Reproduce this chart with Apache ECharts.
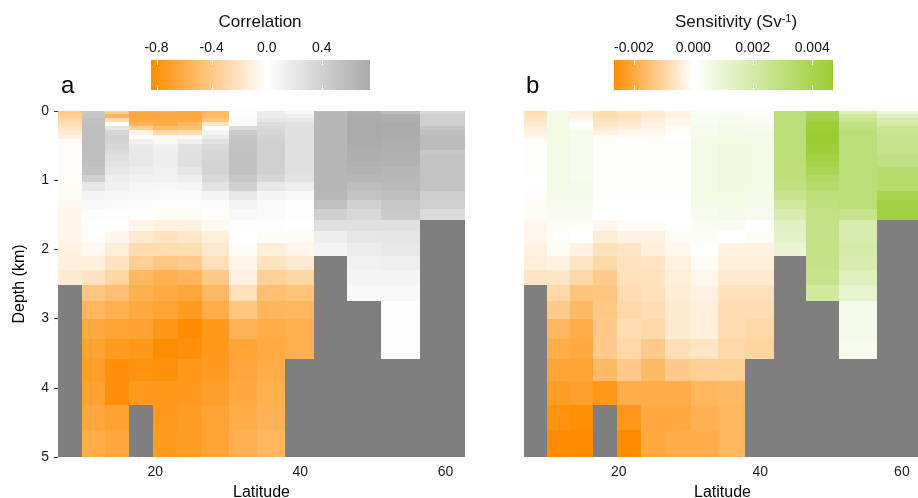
<!DOCTYPE html>
<html>
<head>
<meta charset="utf-8">
<title>Correlation and sensitivity sections</title>
<script src="https://cdn.jsdelivr.net/npm/echarts@6/dist/echarts.min.js"></script>
<style>
  html, body { margin: 0; padding: 0; background: #fff; }
  #chart { width: 918px; height: 498px; }
</style>
</head>
<body>
<div id="chart"></div>
<script>
// cell edges of the section (latitude in degrees, depth in km)
var latEdges = [6.6, 9.9, 13.1, 16.4, 19.7, 23.1, 26.5, 30.2, 34.0, 37.9, 41.9, 46.4, 51.1, 56.5, 62.7];
var depthEdges = [0, 0.05, 0.10, 0.16, 0.22, 0.28, 0.34, 0.41, 0.48, 0.56, 0.64, 0.72, 0.81, 0.92, 1.03,
  1.16, 1.29, 1.42, 1.57, 1.74, 1.91, 2.10, 2.30, 2.52, 2.75, 3.01, 3.29, 3.58, 3.90, 4.25, 4.61, 5.0];
// sea floor depth of each column (km), land below it
var seafloor = [2.52, 5, 5, 4.25, 5, 5, 5, 5, 5, 3.58, 2.10, 2.75, 3.58, 1.57];

var latTicks = [20, 40, 60];
var corrTicks = [-0.8, -0.4, 0.0, 0.4];
var sensTicks = [-0.002, 0.000, 0.002, 0.004];
var corrRange = [-0.84, 0.75];
var sensRange = [-0.00267, 0.0047];

// panel a: correlation, one list per latitude column, top to bottom
var corrCols = [
  [-0.40,-0.35,-0.30,-0.25,-0.20,-0.15,-0.10,-0.04,-0.02,-0.02,-0.02,-0.02,-0.02,-0.02,-0.03,-0.03,-0.05,-0.07,-0.07,-0.07,-0.09,-0.11,-0.15],
  [0.48,0.50,0.54,0.56,0.57,0.57,0.57,0.57,0.57,0.57,0.56,0.55,0.52,0.40,0.20,0.10,0.06,0.03,0.02,-0.02,-0.05,-0.12,-0.20,-0.42,-0.53,-0.63,-0.68,-0.71,-0.68,-0.64,-0.60],
  [-0.35,-0.55,-0.25,0.01,0.22,0.36,0.40,0.38,0.35,0.32,0.28,0.24,0.20,0.16,0.12,0.08,0.04,0.02,0.00,-0.07,-0.13,-0.21,-0.31,-0.47,-0.58,-0.67,-0.73,-0.82,-0.82,-0.68,-0.64],
  [-0.62,-0.64,-0.62,-0.55,-0.35,-0.08,0.03,0.12,0.18,0.20,0.21,0.20,0.16,0.12,0.08,0.06,0.03,0.01,-0.07,-0.16,-0.26,-0.35,-0.52,-0.58,-0.63,-0.68,-0.76,-0.79,-0.74],
  [-0.62,-0.63,-0.62,-0.60,-0.50,-0.28,-0.05,0.06,0.12,0.14,0.15,0.15,0.13,0.11,0.07,0.04,0.02,-0.03,-0.10,-0.20,-0.26,-0.41,-0.57,-0.62,-0.67,-0.77,-0.83,-0.80,-0.75,-0.74,-0.73],
  [-0.63,-0.63,-0.62,-0.52,-0.45,-0.25,-0.05,0.14,0.25,0.26,0.27,0.27,0.22,0.15,0.08,0.04,0.02,-0.04,-0.10,-0.18,-0.25,-0.38,-0.55,-0.65,-0.73,-0.84,-0.81,-0.75,-0.74,-0.72,-0.72],
  [-0.52,-0.50,-0.42,-0.18,-0.03,0.10,0.17,0.26,0.33,0.36,0.37,0.38,0.38,0.34,0.24,0.10,0.03,-0.02,-0.05,-0.12,-0.16,-0.23,-0.39,-0.52,-0.60,-0.75,-0.75,-0.73,-0.70,-0.67,-0.67],
  [0.03,0.03,0.04,0.05,0.30,0.45,0.50,0.52,0.53,0.54,0.54,0.54,0.53,0.48,0.41,0.20,0.10,0.06,0.02,0.00,-0.03,-0.08,-0.10,-0.23,-0.42,-0.56,-0.66,-0.64,-0.63,-0.60,-0.57],
  [0.16,0.17,0.22,0.30,0.34,0.36,0.38,0.40,0.41,0.41,0.41,0.41,0.40,0.36,0.20,0.10,0.04,0.04,0.02,-0.03,-0.13,-0.21,-0.34,-0.47,-0.54,-0.60,-0.62,-0.60,-0.58,-0.56,-0.53],
  [0.06,0.14,0.20,0.26,0.27,0.27,0.27,0.27,0.27,0.27,0.27,0.27,0.27,0.24,0.15,0.05,0.02,0.02,0.00,-0.03,-0.07,-0.15,-0.29,-0.44,-0.53,-0.58,-0.58],
  [0.62,0.63,0.63,0.63,0.63,0.63,0.63,0.63,0.63,0.63,0.63,0.63,0.63,0.63,0.63,0.62,0.55,0.41,0.27,0.15,0.10],
  [0.70,0.72,0.73,0.74,0.74,0.74,0.74,0.73,0.72,0.71,0.70,0.68,0.66,0.63,0.57,0.52,0.40,0.34,0.27,0.22,0.17,0.12,0.10,0.06],
  [0.58,0.68,0.71,0.73,0.73,0.73,0.72,0.71,0.70,0.69,0.68,0.67,0.63,0.62,0.60,0.56,0.49,0.46,0.27,0.23,0.20,0.14,0.10,0.06,0.01,0.01,0.01],
  [0.34,0.41,0.41,0.41,0.50,0.55,0.59,0.59,0.59,0.48,0.52,0.52,0.52,0.52,0.52,0.43,0.41,0.31]
];

// panel b: sensitivity (Sv^-1), same layout
var sensCols = [
  [-0.0008,-0.0007,-0.0006,-0.0005,-0.0004,-0.0003,-0.0002,0.0,0.00005,0.0001,0.0001,0.0001,0.0001,0.0,0.0,-0.00005,-0.0001,-0.0001,-0.0002,-0.0002,-0.0003,-0.0004,-0.0006],
  [0.0005,0.0006,0.0006,0.0006,0.0006,0.0006,0.0006,0.0006,0.0006,0.0006,0.0006,0.0006,0.0006,0.0006,0.0006,0.0005,0.0004,0.0003,0.0002,0.0001,-0.0001,-0.0003,-0.0006,-0.0009,-0.0012,-0.0017,-0.0019,-0.0021,-0.0023,-0.0025,-0.0027],
  [-0.0004,-0.0003,-0.0002,0.0001,0.0002,0.0004,0.0004,0.0004,0.0004,0.0004,0.0004,0.0004,0.0004,0.0004,0.0005,0.0005,0.0004,0.0003,0.0002,0.0,-0.0003,-0.0006,-0.0009,-0.0014,-0.0016,-0.0019,-0.0020,-0.0021,-0.0022,-0.0026,-0.0027],
  [-0.0008,-0.0008,-0.0007,-0.0006,-0.0005,-0.0003,-0.0001,0.0001,0.0001,0.0001,0.0001,0.0001,0.0001,0.0001,0.0001,0.0001,0.0,0.0,-0.0002,-0.00045,-0.0007,-0.0009,-0.0012,-0.00135,-0.0013,-0.0012,-0.0012,-0.0016,-0.0024],
  [-0.0007,-0.0007,-0.0006,-0.0005,-0.0004,-0.0002,-0.0001,0.0,0.0001,0.0001,0.0001,0.0001,0.0001,0.0001,0.0001,0.0001,0.0,0.0,-0.0001,-0.0003,-0.0006,-0.0007,-0.0007,-0.0008,-0.0009,-0.0008,-0.0009,-0.0012,-0.0019,-0.0024,-0.0027],
  [-0.0005,-0.0005,-0.0004,-0.0003,-0.0003,-0.0002,-0.0001,0.0001,0.0001,0.0001,0.0001,0.0001,0.0001,0.0001,0.0001,0.0001,0.0,0.0,-0.0001,-0.0003,-0.0004,-0.0006,-0.0007,-0.0007,-0.0008,-0.0009,-0.0012,-0.0016,-0.0019,-0.0020,-0.0020],
  [-0.0003,-0.0003,-0.0002,-0.0002,-0.0001,-0.0001,0.0,0.0001,0.0001,0.0001,0.0001,0.0001,0.0001,0.0001,0.0001,0.0001,0.0,0.0,0.0,-0.0001,-0.0002,-0.0003,-0.0004,-0.00045,-0.0005,-0.0005,-0.00075,-0.0012,-0.0019,-0.0020,-0.0019],
  [0.0002,0.0003,0.0003,0.0003,0.0004,0.0004,0.0005,0.0006,0.0006,0.0006,0.0006,0.0006,0.0006,0.0006,0.0006,0.0006,0.0005,0.0004,0.0003,0.0002,0.0,-0.0001,-0.0002,-0.0003,-0.0004,-0.0004,-0.0006,-0.0011,-0.0017,-0.0018,-0.0019],
  [0.0003,0.0003,0.0004,0.0004,0.0005,0.0005,0.0006,0.0006,0.0007,0.0007,0.0007,0.0007,0.0007,0.0007,0.0007,0.0006,0.0006,0.0005,0.0003,0.0,-0.0003,-0.0004,-0.0005,-0.0007,-0.0008,-0.0008,-0.0009,-0.0011,-0.0016,-0.0017,-0.0017],
  [0.0002,0.0002,0.0003,0.0004,0.0004,0.0005,0.0005,0.0006,0.0006,0.0006,0.0006,0.0006,0.0006,0.0006,0.0006,0.0005,0.0005,0.0004,0.0001,-0.0001,-0.0003,-0.0004,-0.0005,-0.0007,-0.0008,-0.0009,-0.0010],
  [0.0031,0.0031,0.0031,0.0031,0.0031,0.0031,0.0031,0.0031,0.0031,0.0031,0.0031,0.0031,0.0030,0.0030,0.0029,0.0026,0.0022,0.0018,0.0014,0.0013,0.0010],
  [0.0040,0.0041,0.0043,0.0045,0.0046,0.0047,0.0047,0.0047,0.0046,0.0045,0.0043,0.0042,0.0039,0.0036,0.0034,0.0031,0.0029,0.0028,0.0028,0.0028,0.0028,0.0027,0.0026,0.0022],
  [0.0016,0.0022,0.0025,0.0028,0.0029,0.0031,0.0031,0.0031,0.0031,0.0031,0.0031,0.0031,0.0031,0.0031,0.0031,0.0031,0.0031,0.0026,0.0019,0.0019,0.0020,0.0018,0.0015,0.0011,0.0005,0.0005,0.0004],
  [0.0010,0.0014,0.0019,0.0019,0.0024,0.0024,0.0026,0.0026,0.0026,0.0026,0.0029,0.0029,0.0034,0.0034,0.0034,0.0040,0.0043,0.0043]
];

var ORANGE = '#ff8c00', GREY = '#a9a9a9', GREEN = '#9acd32', LAND = '#7f7f7f';
var FONT = '"Liberation Sans", Arial, Helvetica, sans-serif';

function fillColor(v, range, hiColor) {
  if (v < 0) return echarts.color.lerp(Math.min(v / range[0], 1), ['#ffffff', ORANGE]);
  return echarts.color.lerp(Math.min(v / range[1], 1), ['#ffffff', hiColor]);
}

function cellData(cols) {
  var out = [];
  cols.forEach(function (col, i) {
    col.forEach(function (v, j) { out.push([i, j, v]); });
  });
  return out;
}

function rectBetween(api, a, b) {
  var p0 = api.coord(a), p1 = api.coord(b);
  var x0 = Math.round(p0[0]), x1 = Math.round(p1[0]);
  var y0 = Math.round(p0[1]), y1 = Math.round(p1[1]);
  return { x: x0, y: y0, width: x1 - x0, height: y1 - y0 };
}

function cellSeries(cols, range, hiColor, idx) {
  return {
    type: 'custom', xAxisIndex: idx, yAxisIndex: idx, clip: true, silent: true,
    data: cellData(cols),
    renderItem: function (params, api) {
      var i = api.value(0), j = api.value(1);
      return {
        type: 'rect',
        shape: rectBetween(api, [latEdges[i], depthEdges[j]], [latEdges[i + 1], depthEdges[j + 1]]),
        style: { fill: fillColor(api.value(2), range, hiColor) }
      };
    }
  };
}

function landSeries(idx) {
  return {
    type: 'custom', xAxisIndex: idx, yAxisIndex: idx, clip: true, silent: true,
    data: seafloor.map(function (d, i) { return [i, d]; }),
    renderItem: function (params, api) {
      var i = api.value(0);
      return {
        type: 'rect',
        shape: rectBetween(api, [latEdges[i], api.value(1)], [latEdges[i + 1], depthEdges[depthEdges.length - 1]]),
        style: { fill: LAND }
      };
    }
  };
}

// colour bar: gradient rectangle with short white ticks on both edges
function barSeries(range, ticks, hiColor, xIdx, yIdx) {
  var mid = -range[0] / (range[1] - range[0]);
  return {
    type: 'custom', xAxisIndex: xIdx, yAxisIndex: yIdx, silent: true,
    data: [[range[0], 0]],
    renderItem: function (params, api) {
      var box = rectBetween(api, [range[0], 1], [range[1], 0]);
      var children = [{
        type: 'rect', shape: box,
        style: {
          fill: new echarts.graphic.LinearGradient(0, 0, 1, 0, [
            { offset: 0, color: ORANGE }, { offset: mid, color: '#ffffff' }, { offset: 1, color: hiColor }
          ])
        }
      }];
      ticks.forEach(function (t) {
        var x = Math.round(api.coord([t, 0])[0]) + 0.5;
        children.push({ type: 'line', shape: { x1: x, y1: box.y, x2: x, y2: box.y + 5 }, style: { stroke: '#fff', lineWidth: 1 } });
        children.push({ type: 'line', shape: { x1: x, y1: box.y + box.height - 5, x2: x, y2: box.y + box.height }, style: { stroke: '#fff', lineWidth: 1 } });
      });
      return { type: 'group', children: children };
    }
  };
}

function latAxis(grid) {
  return {
    type: 'value', gridIndex: grid, min: latEdges[0], max: latEdges[latEdges.length - 1],
    name: 'Latitude', nameLocation: 'middle', nameGap: 28,
    nameTextStyle: { fontSize: 16, color: '#000', fontFamily: FONT },
    axisLine: { show: false },
    axisTick: { show: true, customValues: latTicks, length: 5, lineStyle: { color: '#333' } },
    axisLabel: { customValues: latTicks, margin: 8, fontSize: 14, color: '#1a1a1a', fontFamily: FONT },
    splitLine: { show: false }
  };
}

function barAxis(grid, range, ticks, digits) {
  return {
    type: 'value', gridIndex: grid, position: 'top', min: range[0], max: range[1],
    axisLine: { show: false },
    axisTick: { show: false },
    axisLabel: {
      customValues: ticks, margin: 5, fontSize: 14, color: '#111', fontFamily: FONT,
      formatter: function (v) { return v.toFixed(digits); }
    },
    splitLine: { show: false }
  };
}

function hiddenY(grid, min, max, inverse) {
  return { type: 'value', gridIndex: grid, min: min, max: max, inverse: inverse, show: false };
}

var chart = echarts.init(document.getElementById('chart'), null, { renderer: 'canvas' });

chart.setOption({
  animation: false,
  backgroundColor: '#fff',
  grid: [
    { left: 58, top: 111, width: 407, height: 346, outerBoundsMode: 'none', containLabel: false },
    { left: 524, top: 111, width: 397, height: 346, outerBoundsMode: 'none', containLabel: false },
    { left: 151, top: 60, width: 219, height: 30, outerBoundsMode: 'none', containLabel: false },
    { left: 614, top: 60, width: 219, height: 30, outerBoundsMode: 'none', containLabel: false }
  ],
  xAxis: [
    latAxis(0),
    latAxis(1),
    barAxis(2, corrRange, corrTicks, 1),
    barAxis(3, sensRange, sensTicks, 3)
  ],
  yAxis: [
    {
      type: 'value', gridIndex: 0, inverse: true, min: 0, max: 5, interval: 1,
      name: 'Depth (km)', nameLocation: 'middle', nameGap: 30, nameRotate: 90,
      nameTextStyle: { fontSize: 16, color: '#000', fontFamily: FONT },
      axisLine: { show: false },
      axisTick: { show: true, length: 4, lineStyle: { color: '#333' } },
      axisLabel: { margin: 9, fontSize: 14, color: '#1a1a1a', fontFamily: FONT },
      splitLine: { show: false }
    },
    hiddenY(1, 0, 5, true),
    hiddenY(2, 0, 1, false),
    hiddenY(3, 0, 1, false)
  ],
  series: [
    landSeries(0),
    cellSeries(corrCols, corrRange, GREY, 0),
    landSeries(1),
    cellSeries(sensCols, sensRange, GREEN, 1),
    barSeries(corrRange, corrTicks, GREY, 2, 2),
    barSeries(sensRange, sensTicks, GREEN, 3, 3)
  ],
  graphic: [
    { type: 'text', x: 260, y: 22, style: { text: 'Correlation', fontSize: 17, fontFamily: FONT, fill: '#111', align: 'center', verticalAlign: 'middle' } },
    {
      type: 'text', x: 736, y: 22,
      style: {
        text: 'Sensitivity (Sv{sup|-1})', fontSize: 17, fontFamily: FONT, fill: '#111', align: 'center', verticalAlign: 'middle',
        rich: { sup: { fontSize: 11, fontFamily: FONT, fill: '#111', verticalAlign: 'top', lineHeight: 11 } }
      }
    },
    { type: 'text', x: 61, y: 86, style: { text: 'a', fontSize: 24, fontFamily: FONT, fill: '#000', align: 'left', verticalAlign: 'middle' } },
    { type: 'text', x: 526, y: 86, style: { text: 'b', fontSize: 24, fontFamily: FONT, fill: '#000', align: 'left', verticalAlign: 'middle' } }
  ]
});
</script>
</body>
</html>
